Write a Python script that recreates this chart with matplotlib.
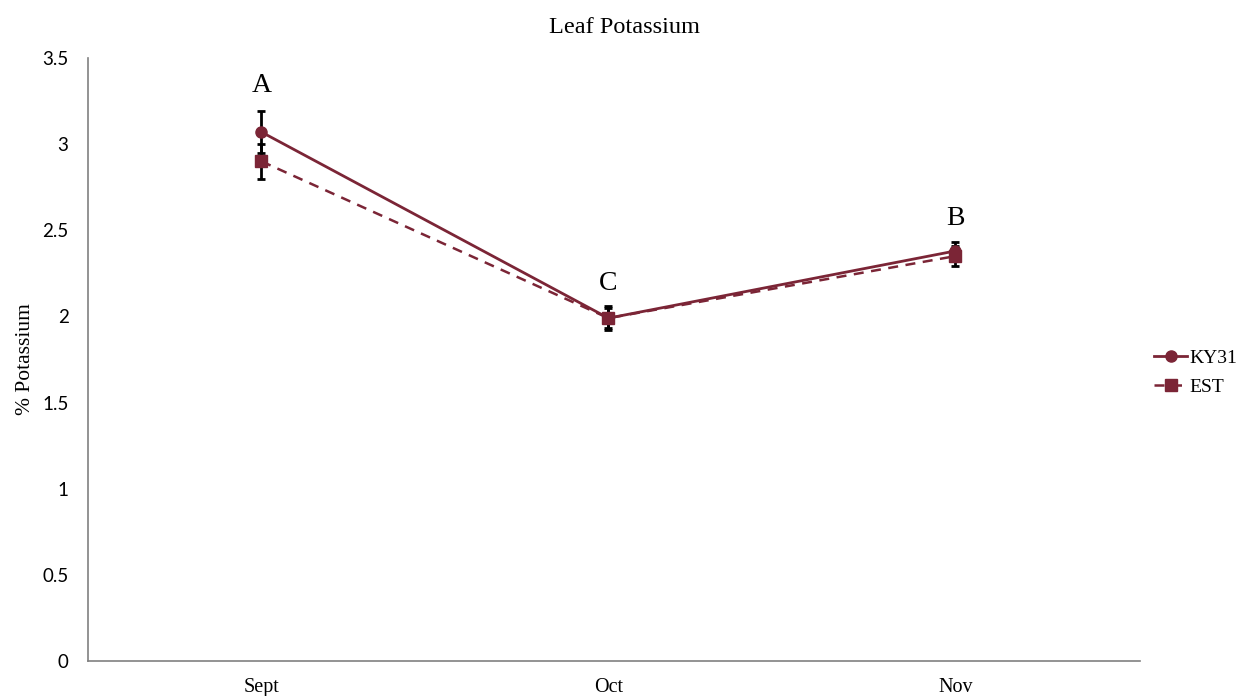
import numpy as np
import matplotlib.pyplot as plt
from matplotlib.lines import Line2D

months = ['Sept', 'Oct', 'Nov']
ky31 = [3.07, 1.99, 2.38]
ky31_err = [0.12, 0.07, 0.05]
est = [2.90, 1.99, 2.35]
est_err = [0.10, 0.06, 0.06]
letters = ['A', 'C', 'B']
letter_y = [3.34, 2.19, 2.57]

color = '#7b2536'
serif = 'Liberation Serif'

fig = plt.figure(figsize=(12.41, 6.96), dpi=100)
ax = fig.add_axes([0.0709, 0.0503, 0.8477, 0.8664])

x = np.arange(len(months)) + 0.5

ax.errorbar(x, ky31, yerr=ky31_err, fmt='none', ecolor='black', elinewidth=2, capsize=3, capthick=2, zorder=2)
ax.errorbar(x, est, yerr=est_err, fmt='none', ecolor='black', elinewidth=2, capsize=3, capthick=2, zorder=2)
ax.plot(x, ky31, color=color, lw=2, marker='o', ms=8, zorder=3, label='KY31')
ax.plot(x, est, color=color, lw=1.8, ls=(0, (4, 3)), marker='s', ms=8, zorder=3, label='EST')

for xi, lab, ly in zip(x, letters, letter_y):
    ax.text(xi, ly, lab, ha='center', va='center', fontsize=20, family=serif)

ax.set_xlim(0, 3.032)
ax.set_ylim(0, 3.5)
ax.set_xticks(x)
ax.set_xticklabels(months, family=serif, fontsize=14.5)
ax.set_yticks(np.arange(0, 3.51, 0.5))
ax.set_yticklabels(['0', '0.5', '1', '1.5', '2', '2.5', '3', '3.5'], family='Lato', fontsize=13.5)
ax.tick_params(length=0)
ax.tick_params(axis='y', pad=14)
ax.tick_params(axis='x', pad=12)

for s in ['top', 'right']:
    ax.spines[s].set_visible(False)
for s in ['left', 'bottom']:
    ax.spines[s].set_color('#808080')
    ax.spines[s].set_linewidth(1.2)

ax.set_ylabel('% Potassium', family=serif, fontsize=15.5, labelpad=5)
fig.text(0.5036, 0.961, 'Leaf Potassium', ha='center', va='center', family=serif, fontsize=17.5)

handles = [
    Line2D([], [], color=color, lw=2, marker='o', ms=8),
    Line2D([], [], color=color, lw=1.8, ls=(0, (4, 3)), marker='s', ms=8),
]
fig.legend(handles, ['KY31', 'EST'], loc='center left', bbox_to_anchor=(0.916, 0.465),
           frameon=False, prop={'family': serif, 'size': 14},
           handlelength=1.7, handletextpad=0.1, labelspacing=0.6)

fig.savefig('out.png', dpi=100)
